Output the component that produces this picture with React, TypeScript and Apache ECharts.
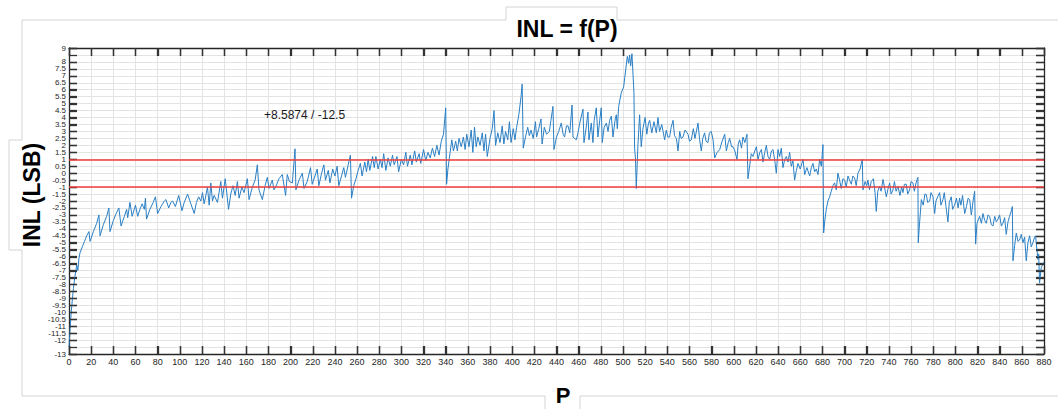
import { useEffect, useRef } from 'react';
import * as echarts from 'echarts';

// P (code) and INL (LSB) vertices
const inlCurve: [number, number][] = [
  [0, -12.5], [1, -11.2], [2, -10.0], [3, -9.1], [4, -8.3], [5, -7.6], [6, -7.1], [7, -6.6], [8, -7.0], [9, -6.1],
  [10, -5.7], [12, -5.3], [14, -4.9], [16, -4.5], [18, -4.2], [19, -4.9], [22, -4.2], [25, -3.6], [27, -3.0], [28, -4.5],
  [31, -3.7], [34, -3.1], [36, -2.5], [37, -4.2], [40, -3.4], [42, -3.0], [45, -2.5], [47, -3.8], [50, -3.1],
  [52, -2.6], [53, -3.2], [55, -2.1], [57, -3.1], [60, -2.3], [62, -3.1], [64, -2.6], [66, -2.2], [68, -2.6], [69, -1.8],
  [70, -3.3], [73, -2.6], [76, -2.1], [78, -1.7], [80, -2.9], [83, -2.4], [86, -2.0], [87.5, -1.9], [90, -2.5], [92, -2.1],
  [93.5, -2.0], [96, -2.4], [99, -1.6], [102, -2.7], [104, -2.1], [107, -1.5], [110, -2.2], [113, -2.9], [115, -2.1],
  [117, -1.7], [119, -2.0], [120.5, -1.4], [122, -2.2],
  [125, -1.0], [126.5, -2.3], [128, -0.7], [129.5, -2.0], [131, -1.6], [134, -2.1], [137, -0.6], [138.5, -1.8], [141, -0.4],
  [144, -2.6], [146, -1.5], [148, -0.9], [150, -1.6], [152, -0.6], [153.5, -1.8], [156, -1.0], [158, -1.4], [161, -0.4],
  [162.5, -1.9], [165.5, -1.0], [168, -0.5], [170, 0.6], [171.5, -1.2], [174.5, -1.9], [177, -0.9], [179, -0.3], [180.5, -1.1],
  [183.5, -0.5], [185, -1.2], [186.5, -1.0], [189.5, -0.4], [192.5, -0.1], [195.5, -1.6], [197, -0.1], [199, -0.6],
  [201.6, -0.7], [204, 1.75], [204.8, -1.2], [207.6, -0.5], [210.6, 0.0], [212.1, -1.1],
  [215, -0.6], [218, 0.4], [219.5, -0.8], [222, -0.2], [224, 0.3], [225.5, -0.9], [228, 0.0], [230, 0.6], [231.5, -0.5],
  [234, 0.2], [235.5, -0.7], [238, 0.3], [240, -0.2], [242, 0.5], [243.5, -0.9], [246, -0.2], [248, 0.4], [249.5, -0.3],
  [252, 0.6], [254, 1.3], [255, -1.8],
  [257, -0.9], [259, -0.4], [261, 0.2], [263, 0.7], [264.5, -0.2], [267, 0.8], [268.5, 0.1], [270, 1.0], [271.5, 0.2],
  [274, 1.2], [275.5, 0.4], [277, 1.2], [279, 0.3], [281, 1.0], [282.5, 0.4], [284, 1.4], [286, 0.2], [288, 1.1], [290, 0.5],
  [292, 1.3], [293.5, 0.6], [296, 1.2], [297.5, 0.1], [300, 1.0], [302, 0.6], [304, 1.5], [305.5, 0.5], [308, 1.3],
  [309.5, 0.6], [312, 1.6], [313.5, 0.8], [316, 1.4], [317.5, 0.7], [320, 1.7], [322, 0.9], [324, 1.5], [326, 1.1],
  [328, 1.8], [330, 1.2], [332, 2.0], [334, 1.3], [336, 2.3], [338, 2.8], [340, 4.7], [340.8, -0.8],
  [342, 0.3], [344, 1.5], [345.5, 2.4], [347, 1.6], [349, 2.3], [350.5, 1.6], [352, 2.5], [354, 1.9], [356, 2.6],
  [357.5, 1.7], [359, 2.8], [361, 1.9], [363, 3.1], [364.5, 1.5], [366, 3.3], [367.5, 1.9], [369, 2.6], [371, 2.0],
  [373, 2.9], [374.5, 1.6], [376, 2.8], [377.5, 1.2], [380, 2.5], [382, 3.2], [383.6, 4.5], [385, 2.0], [387, 2.9],
  [389, 2.2], [391, 3.4], [392.5, 2.1], [394, 3.0], [396, 2.4], [397.5, 3.7], [399, 2.2], [401, 3.2], [402.5, 2.4],
  [404, 3.3], [406, 4.2], [408, 5.5], [409, 6.4], [410, 1.8],
  [412, 2.6], [414, 3.3], [415.5, 2.7], [417, 3.1], [419, 2.5], [421, 3.7], [422, 2.6], [424, 3.2], [426, 3.9], [427, 2.1],
  [429, 3.3], [431, 2.8], [433.5, 3.0], [435, 3.8], [436.8, 4.8], [437.7, 1.7], [440, 2.6], [442, 3.0], [444.3, 3.6],
  [446, 2.8], [447.3, 2.6], [449, 3.4], [450.4, 3.4], [452, 2.9], [454, 4.9], [454.9, 2.6], [457.9, 2.4], [459.4, 2.9],
  [461, 3.6], [463.9, 4.6], [464.8, 2.2], [467, 3.4], [468.4, 4.4], [469.3, 2.4], [471.4, 3.6], [472.9, 2.2], [474, 3.8],
  [475.9, 4.7], [477.4, 2.6], [479, 3.8], [480.4, 4.7], [481.3, 2.2], [483, 3.3], [485, 3.6], [486.5, 3.0], [488, 3.8],
  [489.5, 4.1], [491, 2.6], [493, 3.9], [494, 4.2], [494.9, 3.2], [496.1, 4.8], [498.5, 5.8], [500.6, 6.2], [502.1, 7.2],
  [503.9, 8.4], [505.1, 7.9], [506, 8.5], [506.9, 7.7], [508.1, 8.5874], [509, 7.2], [509.9, 5.8], [510.5, 1.8],
  [511.3, 1.0], [512, -1.1], [513.5, 2.0], [515, 4.2], [516.5, 1.9],
  [518, 3.2], [520, 4.0], [521.5, 2.8], [523, 3.6], [524.1, 3.8], [526, 2.9], [528, 3.7], [530.1, 2.9], [531.6, 4.0],
  [533, 3.0], [535, 3.5], [537.6, 2.4], [539.1, 3.1], [540.5, 2.6], [542.1, 2.6], [543.5, 3.3], [545.2, 3.8], [546.5, 2.7],
  [548.2, 2.5], [549.7, 1.6], [551.2, 3.0], [552.5, 2.5], [554.2, 2.6], [556, 3.1], [558.7, 2.8], [560, 2.3], [561.7, 2.4],
  [563.5, 3.2], [565, 2.5], [567.7, 3.6], [569.2, 2.4], [570.7, 1.6], [572, 2.5], [573.7, 2.9], [575, 2.3], [576.7, 2.2],
  [578, 2.9], [579.7, 3.0], [581.3, 2.4], [582.8, 1.1], [585, 1.5], [587.3, 1.7], [589.5, 2.3], [591.8, 2.8], [593.3, 1.6],
  [595, 2.2], [596.3, 2.5], [598, 1.9], [599.3, 1.9], [601, 1.6], [602.9, 1.0], [604, 2.1], [605.3, 2.4], [607, 1.8],
  [608.3, 2.6], [610, 2.2], [611.9, 2.8], [612.8, -0.4],
  [614.3, 0.5], [615.8, 1.4], [617.3, 1.2], [619, 1.6], [620.4, 1.9], [621.9, 1.0], [623.5, 1.5], [624.9, 1.7], [626.4, 0.8],
  [628, 1.5], [629.4, 2.0], [630.9, 1.2], [632.4, 1.0], [634, 1.6], [635.4, 1.7], [637, 0.9], [638.4, 0.0], [639.9, 1.7],
  [641.4, 1.2], [642.9, 1.8], [644.4, 0.4], [646, 1.0], [647.4, 1.2], [649, 0.8], [650.4, 1.5], [651.9, 0.5], [653.4, 0.9],
  [654.9, -0.5], [656.5, 0.2], [658, 0.7], [660, 0.3], [662.5, 1.0], [664, -0.1], [666, 0.4], [668.5, -0.2], [670, 0.4],
  [671.5, 0.7], [673, 0.1], [674.5, 0.3], [676, -0.1], [677.5, 1.0], [679, 0.5], [680.5, 2.05], [681.1, -4.3],
  [682.3, -3.3], [683.5, -2.6], [685, -2.0], [686.5, -1.7], [688, -1.3], [689.5, -0.9], [691, -0.7], [692.5, -1.2],
  [694, 0.0], [695.5, -0.5], [697, -1.1], [698.5, -0.4], [700.1, -0.5], [701.5, -1.0], [703.1, -0.2], [704.5, -0.5],
  [706.1, -0.8], [707.5, -0.2], [709.1, -0.35], [710.5, -0.9], [712.1, 0.0], [714, 0.3], [716, 1.0], [716.6, -1.2],
  [718.5, -0.6], [720, -0.9], [721.1, -0.5], [722.5, -1.2], [724.1, -0.6], [726, -0.4], [727.5, -1.4], [728.6, -2.75],
  [730, -1.3], [731.6, -0.95], [733, -1.3], [734.7, -0.45], [736, -1.0], [737.7, -1.7], [739, -1.2], [740.7, -0.7],
  [742, -1.5], [743.7, -1.2], [745, -0.6], [746.5, -1.3], [748.2, -0.95], [750, -1.6], [751.5, -1.0], [752.7, -1.4],
  [754, -0.8], [755.7, -0.8], [757, -1.5], [758.7, -1.2], [760, -0.6], [761.7, -0.7], [763, -1.3], [764.5, -0.7],
  [766.2, -0.3], [766.5, -5.0],
  [767.5, -3.8], [769.3, -1.9], [771, -2.3], [772.5, -1.5], [773.8, -1.55], [775, -2.1], [776.8, -2.0], [778, -1.4],
  [779.8, -1.7], [781.3, -2.9], [782.5, -2.0], [784, -1.7], [785.8, -1.4], [787, -2.3], [788.8, -1.9], [790, -1.4],
  [791.5, -2.4], [793.3, -3.5], [794.5, -2.1], [796.3, -1.7], [797.5, -2.6], [799.3, -2.3], [801, -1.8], [802.5, -2.5],
  [803.8, -1.8], [805, -2.3], [806.5, -1.6], [808.4, -2.9], [810, -2.4], [811.5, -1.8], [812.9, -1.9], [814.4, -3.0],
  [816, -2.0], [817.4, -1.3], [818.3, -5.1], [819.5, -3.6], [821.9, -3.1], [823.5, -3.6], [824.9, -2.9], [826.5, -3.4],
  [827.9, -3.6], [829.5, -3.0], [830.9, -3.1], [832.5, -3.7], [833.9, -3.8], [835.5, -3.1], [837, -3.5], [838.5, -3.3],
  [839.9, -3.0], [841.5, -3.8], [842.9, -3.6], [844.5, -3.2], [845.9, -4.4], [847.5, -3.5], [848.9, -3.1], [850.2, -2.8],
  [851.4, -2.4], [852, -6.3],
  [853.5, -5.2], [855, -4.3], [856.5, -4.9], [858, -4.8], [859.5, -4.4], [861, -5.0], [862.5, -4.6], [864, -6.3],
  [865.5, -5.0], [867, -4.5], [868.5, -5.3], [870, -5.0], [871.5, -4.6], [872.4, -4.5], [873.6, -5.5], [874.5, -6.2],
  [875.2, -5.8], [876, -7.9], [877.5, -6.8], [879.6, -6.4],
];

const limitLines = [1, -1];
const xTicks = [
  0, 20, 40, 60, 80, 100, 120, 140, 160, 180, 200, 220, 240, 260, 280, 300, 320, 340, 360, 380, 400, 420, 440,
  460, 480, 500, 520, 540, 560, 580, 600, 620, 640, 660, 680, 700, 720, 740, 760, 780, 800, 820, 840, 860, 880,
];
const yTicks = [
  -13, -12.5, -12, -11.5, -11, -10.5, -10, -9.5, -9, -8.5, -8, -7.5, -7, -6.5, -6, -5.5, -5, -4.5, -4, -3.5, -3,
  -2.5, -2, -1.5, -1, -0.5, 0, 0.5, 1, 1.5, 2, 2.5, 3, 3.5, 4, 4.5, 5, 5.5, 6, 6.5, 7, 7.5, 8, 8.5, 9,
];
const xRange = { min: 0, max: 880, step: 20 };
const yRange = { min: -13, max: 9, step: 0.5 };
const titleText = 'INL = f(P)';
const xName = 'P';
const yName = 'INL (LSB)';
const annotationText = '+8.5874 / -12.5';

const FONT = '"Liberation Sans", Arial, Helvetica, sans-serif';
const AXIS_COLOR = '#262626';
const FRAME = '#d4d4d4';
const TICK_LEN = 8;

export default function App() {
  const ref = useRef<HTMLDivElement>(null);

  useEffect(() => {
    if (!ref.current) return;
    const chart = echarts.init(ref.current, undefined, { renderer: 'svg' });
    const gridL = 69, gridR = 14, gridT = 48, gridB = 55;

    const mkTick = () => ({ show: true, inside: true, length: TICK_LEN, lineStyle: { color: '#333333', width: 1.3 } });
    const mkLine = () => ({ show: true, onZero: false, lineStyle: { color: AXIS_COLOR, width: 1.3 } });
    const mkSplit = () => ({ show: true, lineStyle: { color: '#e3e3e3', width: 1 } });

    const seg = (x1: number, y1: number, x2: number, y2: number) => ({
      type: 'line',
      shape: { x1, y1, x2, y2 },
      style: { stroke: FRAME, lineWidth: 1 },
      silent: true,
    });

    const tickData = [
      ...xTicks.map((v) => [0, v]),
      ...yTicks.map((v) => [1, v]),
    ];

    chart.setOption({
      animation: false,
      backgroundColor: '#ffffff',
      grid: { left: gridL, right: gridR, top: gridT, bottom: gridB, containLabel: false },
      xAxis: [
        {
          type: 'value', min: xRange.min, max: xRange.max, interval: xRange.step, position: 'bottom',
          axisLine: mkLine(), axisTick: mkTick(), splitLine: mkSplit(),
          axisLabel: { color: AXIS_COLOR, fontSize: 9, fontFamily: FONT, margin: 3, showMinLabel: true, showMaxLabel: true },
        },
        {
          type: 'value', min: xRange.min, max: xRange.max, interval: xRange.step, position: 'top',
          axisLine: mkLine(), axisTick: mkTick(), splitLine: { show: false }, axisLabel: { show: false },
        },
      ],
      yAxis: [
        {
          type: 'value', min: yRange.min, max: yRange.max, interval: yRange.step, position: 'left',
          axisLine: mkLine(), axisTick: mkTick(), splitLine: mkSplit(),
          axisLabel: {
            color: AXIS_COLOR, fontSize: 8, fontFamily: FONT, margin: 3, lineHeight: 7,
            showMinLabel: true, showMaxLabel: true,
          },
        },
        {
          type: 'value', min: yRange.min, max: yRange.max, interval: yRange.step, position: 'right',
          axisLine: mkLine(), axisTick: mkTick(), splitLine: { show: false }, axisLabel: { show: false },
        },
      ],
      series: [
        {
          // box tick marks on all four sides, placed with the axes' own scales
          type: 'custom',
          xAxisIndex: 0,
          yAxisIndex: 0,
          silent: true,
          clip: false,
          z: 4,
          data: tickData,
          encode: { x: -1, y: -1 },
          renderItem: (params: any, api: any) => {
            const cs = params.coordSys;
            const kind = api.value(0);
            const v = api.value(1);
            const style = { stroke: '#333333', lineWidth: 1.3 };
            if (kind === 0) {
              const px = Math.round(api.coord([v, yRange.min])[0]) + 0.5;
              const top = cs.y, bottom = cs.y + cs.height;
              return {
                type: 'group',
                children: [
                  { type: 'line', shape: { x1: px, y1: bottom, x2: px, y2: bottom - TICK_LEN }, style },
                  { type: 'line', shape: { x1: px, y1: top, x2: px, y2: top + TICK_LEN }, style },
                ],
              };
            }
            const py = Math.round(api.coord([xRange.min, v])[1]) + 0.5;
            const left = cs.x, right = cs.x + cs.width;
            return {
              type: 'group',
              children: [
                { type: 'line', shape: { x1: left, y1: py, x2: left + TICK_LEN, y2: py }, style },
                { type: 'line', shape: { x1: right, y1: py, x2: right - TICK_LEN, y2: py }, style },
              ],
            };
          },
        },
        {
          type: 'line',
          data: inlCurve,
          xAxisIndex: 0,
          yAxisIndex: 0,
          showSymbol: false,
          symbol: 'none',
          lineStyle: { color: '#2a7fc4', width: 1 },
          markLine: {
            silent: true,
            symbol: ['none', 'none'],
            label: { show: false },
            lineStyle: { color: '#f03c3c', width: 1.5, type: 'solid' },
            data: limitLines.map((v) => ({ yAxis: v })),
          },
          z: 3,
        },
      ],
      graphic: [
        seg(22, 20, 506, 20),
        seg(617, 20, 1058, 20),
        seg(506, 7, 617, 7),
        seg(506, 7, 506, 20),
        seg(617, 7, 617, 20),
        seg(22, 20, 22, 140),
        seg(9, 140, 22, 140),
        seg(9, 140, 9, 250),
        seg(9, 250, 22, 250),
        seg(22, 250, 22, 396),
        seg(22, 396, 545, 396),
        seg(545, 396, 545, 409),
        seg(580, 396, 580, 409),
        seg(580, 396, 1058, 396),
        {
          type: 'text',
          x: 567, y: 29,
          style: {
            text: titleText, fill: '#000', font: `bold 23px ${FONT}`,
            textAlign: 'center', textVerticalAlign: 'middle',
          },
        },
        {
          type: 'text',
          x: 32, y: 195,
          rotation: Math.PI / 2,
          style: {
            text: yName, fill: '#000', font: `bold 23px ${FONT}`,
            textAlign: 'center', textVerticalAlign: 'middle',
          },
        },
        {
          type: 'text',
          x: 563, y: 395,
          style: {
            text: xName, fill: '#000', font: `bold 22px ${FONT}`,
            textAlign: 'center', textVerticalAlign: 'middle',
          },
        },
        {
          type: 'text',
          x: 264, y: 115,
          z: 10,
          style: {
            text: annotationText, fill: '#1a1a1a', font: `12px ${FONT}`,
            textAlign: 'left', textVerticalAlign: 'middle',
          },
        },
      ],
    });

    return () => chart.dispose();
  }, []);

  return (
    <div
      ref={ref}
      style={{ position: 'fixed', left: 0, top: 0, width: 1058, height: 409, background: '#fff' }}
    />
  );
}
